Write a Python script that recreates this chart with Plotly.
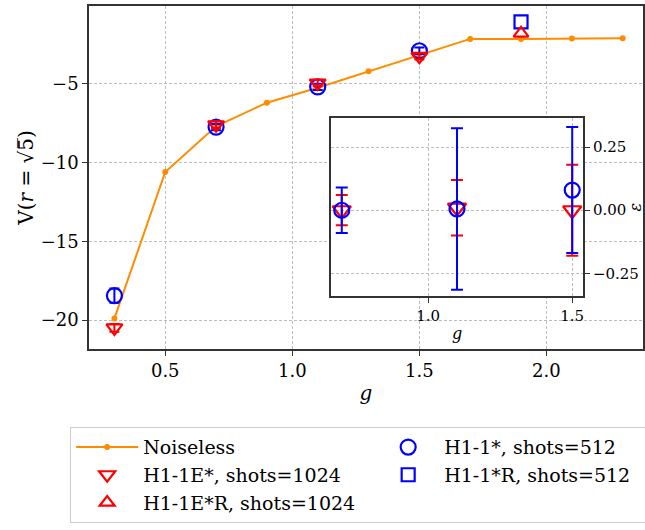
import plotly.graph_objects as go

# Noiseless reference curve
g_noiseless = [0.3, 0.5, 0.7, 0.9, 1.1, 1.3, 1.5, 1.7, 1.9, 2.1, 2.3]
v_noiseless = [-19.9, -10.6, -7.7, -6.2, -5.25, -4.2, -3.15, -2.15, -2.15, -2.12, -2.1]

# Hardware / emulator runs
g_runs = [0.3, 0.7, 1.1, 1.5]
v_h1e = [-20.5, -7.6, -4.95, -3.25]
err_h1e = [0.25, 0.2, 0.2, 0.2]
v_h1 = [-18.45, -7.75, -5.2, -2.9]
err_h1 = [0.45, 0.2, 0.2, 0.2]

g_rerun = [1.9]
v_h1e_r = [-1.8]
v_h1_r = [-1.07]

# Relative deviation shown in the inset
g_inset = [0.7, 1.1, 1.5]
eps_h1e = [0.0, 0.01, 0.0]
eps_err_h1e = [0.06, 0.11, 0.18]
eps_h1 = [0.0, 0.005, 0.08]
eps_err_h1 = [0.09, 0.32, 0.25]

ORANGE = "#ff8c00"
RED = "#ff0000"
BLUE = "#0000ff"
FONT = "DejaVu Serif"
GRID = "#bdbdbd"
FRAME = "#333333"

fig = go.Figure()

fig.add_trace(go.Scatter(
    x=g_noiseless, y=v_noiseless, name="Noiseless", mode="lines+markers",
    line=dict(color=ORANGE, width=2), marker=dict(color=ORANGE, size=6),
    xaxis="x", yaxis="y"))
fig.add_trace(go.Scatter(
    x=g_runs, y=v_h1, name="H1-1*, shots=512", mode="markers",
    marker=dict(symbol="circle-open", color=BLUE, size=15, line=dict(width=2.2)),
    error_y=dict(type="data", array=err_h1, color=BLUE, thickness=2, width=5),
    xaxis="x", yaxis="y"))
fig.add_trace(go.Scatter(
    x=g_runs, y=v_h1e, name="H1-1E*, shots=1024", mode="markers",
    marker=dict(symbol="triangle-down-open", color=RED, size=14, line=dict(width=2.2)),
    error_y=dict(type="data", array=err_h1e, color=RED, thickness=2, width=5),
    xaxis="x", yaxis="y"))
fig.add_trace(go.Scatter(
    x=g_rerun, y=v_h1_r, name="H1-1*R, shots=512", mode="markers",
    marker=dict(symbol="square-open", color=BLUE, size=13, line=dict(width=2.2)),
    xaxis="x", yaxis="y"))
fig.add_trace(go.Scatter(
    x=g_rerun, y=v_h1e_r, name="H1-1E*R, shots=1024", mode="markers",
    marker=dict(symbol="triangle-up-open", color=RED, size=13, line=dict(width=2.2)),
    xaxis="x", yaxis="y"))

# Inset traces
fig.add_trace(go.Scatter(
    x=g_inset, y=eps_h1e, mode="markers", showlegend=False,
    marker=dict(symbol="triangle-down-open", color=RED, size=16, line=dict(width=2.2)),
    error_y=dict(type="data", array=eps_err_h1e, color=RED, thickness=2, width=6),
    xaxis="x2", yaxis="y2"))
fig.add_trace(go.Scatter(
    x=g_inset, y=eps_h1, mode="markers", showlegend=False,
    marker=dict(symbol="circle-open", color=BLUE, size=15, line=dict(width=2.2)),
    error_y=dict(type="data", array=eps_err_h1, color=BLUE, thickness=2, width=6),
    xaxis="x2", yaxis="y2"))

fig.add_shape(type="line", xref="x2 domain", yref="y2", x0=0, x1=1, y0=0, y1=0,
              line=dict(color="#808080", width=2, dash="dash"), layer="below")

axis_common = dict(showline=True, mirror=True, linecolor=FRAME, linewidth=1.5,
                   ticks="outside", ticklen=5, tickcolor=FRAME,
                   showgrid=True, gridcolor=GRID, gridwidth=0.8, griddash="3px,2px",
                   zeroline=False)

fig.update_layout(
    width=645, height=530,
    margin=dict(l=89, r=2, t=6, b=181, autoexpand=False),
    paper_bgcolor="white", plot_bgcolor="white",
    font=dict(family=FONT, size=18, color="black"),
    xaxis=dict(range=[0.2, 2.38], tickvals=[0.5, 1.0, 1.5, 2.0],
               ticktext=["0.5", "1.0", "1.5", "2.0"],
               title=dict(text="<i>g</i>", standoff=6, font=dict(size=20)),
               domain=[0, 1], **axis_common),
    yaxis=dict(range=[-21.84, -0.06], tickvals=[-20, -15, -10, -5],
               title=dict(text="V(<i>r</i> = √5\u0305)", standoff=2, font=dict(size=20)),
               domain=[0, 1], **axis_common),
    xaxis2=dict(range=[0.663, 1.538], tickvals=[1.0, 1.5], ticktext=["1.0", "1.5"],
                anchor="y2", domain=[0.437, 0.892], tickfont=dict(size=15),
                title=dict(text="<i>g</i>", standoff=4, font=dict(size=16)),
                **axis_common),
    yaxis2=dict(range=[-0.34, 0.365], tickvals=[-0.25, 0, 0.25],
                ticktext=["−0.25", "0.00", "0.25"], side="right",
                anchor="x2", domain=[0.1545, 0.673], tickfont=dict(size=15),
                title=dict(text="<i>ε</i>", standoff=4, font=dict(size=16)),
                **axis_common),
    legend=dict(orientation="h", x=-0.034, xanchor="left", y=-0.228, yanchor="top",
                entrywidth=224, entrywidthmode="pixels", itemwidth=62,
                bordercolor="#cccccc", borderwidth=1, bgcolor="white",
                font=dict(size=19)),
)

fig.write_html("out.html")
